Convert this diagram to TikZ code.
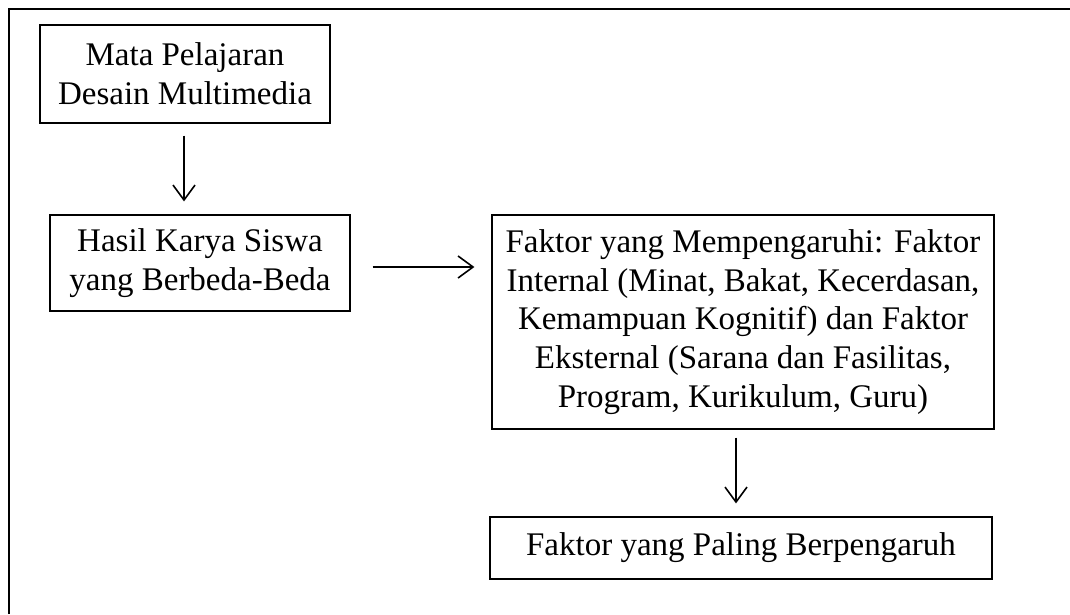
\documentclass[tikz,border=0pt]{standalone}
\usepackage{fontspec}
\setmainfont{Liberation Serif}
\usetikzlibrary{arrows.meta,calc}
\begin{document}
\begin{tikzpicture}[x=1pt,y=-1pt,
  box/.style={draw=black, line width=1.2pt, inner sep=0pt, align=center,
    font=\fontsize{33}{38.6}\selectfont},
  conn/.style={line width=1.6pt, -{Straight Barb[length=15pt,width=22pt,line width=1.6pt]}},
  frame/.style={line width=2.6pt}]
\useasboundingbox (0,0) rectangle (1070,614);
\draw[frame] (9,614) -- (9,9) -- (1070,9);
\node[box, minimum width=290pt, minimum height=98pt] (b1) at (185,74) {Mata Pelajaran\\Desain Multimedia};
\node[box, minimum width=300pt, minimum height=96pt] (b2) at (200,263) {Hasil Karya Siswa\\yang Berbeda-Beda};
\node[box, minimum width=502pt, minimum height=214pt] (b3) at (743,322) {Faktor yang Mempengaruhi: Faktor\\Internal (Minat, Bakat, Kecerdasan,\\Kemampuan Kognitif) dan Faktor\\Eksternal (Sarana dan Fasilitas,\\Program, Kurikulum, Guru)};
\node[box, minimum width=502pt, minimum height=62pt] (b4) at (741,548) {Faktor yang Paling Berpengaruh};
\draw[conn] ($(b1.south)+(-1,12)$) -- ($(b1.south |- b2.north)+(-1,-13)$);
\draw[conn] ($(b2.east)+(22,4)$) -- ($(b3.west |- b2.east)+(-17,4)$);
\draw[conn] ($(b3.south)+(-7,8)$) -- ($(b3.south |- b4.north)+(-7,-13)$);
\end{tikzpicture}
\end{document}
